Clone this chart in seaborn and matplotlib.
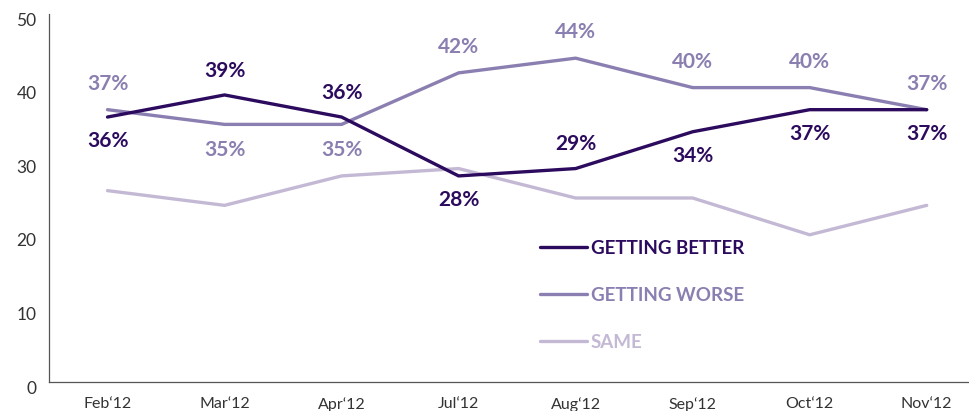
import numpy as np
import pandas as pd
import matplotlib
matplotlib.use('Agg')
import matplotlib.pyplot as plt
import matplotlib.transforms as mtransforms
import seaborn as sns

months = ['Feb\u201812', 'Mar\u201812', 'Apr\u201812', 'Jul\u201812', 'Aug\u201812', 'Sep\u201812', 'Oct\u201812', 'Nov\u201812']
better = [36, 39, 36, 28, 29, 34, 37, 37]
worse = [37, 35, 35, 42, 44, 40, 40, 37]
same = [26, 24, 28, 29, 25, 25, 20, 24]
series_names = ['GETTING BETTER', 'GETTING WORSE', 'SAME']
# label above (+1) or below (-1) the point
better_pos = [-1, 1, 1, -1, 1, -1, -1, -1]
worse_pos = [1, -1, -1, 1, 1, 1, 1, 1]
yticks = [0, 10, 20, 30, 40, 50]

colors = {'GETTING BETTER': '#2c0b5e', 'GETTING WORSE': '#8a7fb0', 'SAME': '#c4b9d4'}

df = pd.DataFrame({
    'month': months * 3,
    'x': list(range(len(months))) * 3,
    'value': better + worse + same,
    'series': [series_names[0]] * 8 + [series_names[1]] * 8 + [series_names[2]] * 8,
})

sns.set_style('white')
plt.rcParams['font.family'] = ['Lato', 'DejaVu Sans']

fig = plt.figure(figsize=(9.7, 4.11), dpi=100)
ax = fig.add_axes([49 / 970, 29 / 411, 1 - 49 / 970, (382 - 14) / 411])

# draw order: lightest first so the dark line sits on top
for name in ['SAME', 'GETTING WORSE', 'GETTING BETTER']:
    sub = df[df['series'] == name]
    sns.lineplot(data=sub, x='x', y='value', ax=ax, color=colors[name],
                 linewidth=2.4, label=name, legend=False)

# value labels
for i in range(len(months)):
    ax.annotate(str(better[i]) + '%', (i, better[i]), xytext=(0, 17.5 * better_pos[i]),
                textcoords='offset points', ha='center', va='center',
                fontsize=15, fontweight='bold', color=colors['GETTING BETTER'])
    ax.annotate(str(worse[i]) + '%', (i, worse[i]), xytext=(0, 18.5 * worse_pos[i]),
                textcoords='offset points', ha='center', va='center',
                fontsize=15, fontweight='bold', color=colors['GETTING WORSE'])

ax.set_xlim(-0.5, 7.37)
ax.set_ylim(0, 50)
ax.set_yticks(yticks)
ax.set_yticklabels([str(t) for t in yticks], fontsize=12.5, color='#333333')
ax.set_xticks(range(len(months)))
ax.set_xticklabels(months, fontsize=11.5, color='#333333')
ax.set_xticks(np.arange(0.5, 7.5, 1), minor=True)
ax.tick_params(axis='x', which='major', length=0, pad=11)
ax.tick_params(axis='x', which='minor', direction='in', length=12, width=0.8, color='#555555')
ax.tick_params(axis='y', direction='in', length=23, width=0.8, color='#555555', pad=9)
shift = mtransforms.ScaledTranslation(0, -5 / 100, fig.dpi_scale_trans)
for lab in ax.get_yticklabels():
    lab.set_transform(lab.get_transform() + shift)
ax.set_xlabel('')
ax.set_ylabel('')

for s in ['top', 'right']:
    ax.spines[s].set_visible(False)
for s in ['left', 'bottom']:
    ax.spines[s].set_color('#555555')
    ax.spines[s].set_linewidth(0.9)

handles, labels = ax.get_legend_handles_labels()
order = [labels.index(n) for n in series_names]
leg = ax.legend([handles[k] for k in order], [labels[k] for k in order],
                loc='upper left', bbox_to_anchor=(0.515, 0.433), frameon=False,
                handlelength=2.5, handletextpad=0.2, labelspacing=1.6,
                prop={'size': 13.5, 'weight': 'bold'})
for txt, n in zip(leg.get_texts(), series_names):
    txt.set_color(colors[n])

fig.savefig('out.png', dpi=100)
